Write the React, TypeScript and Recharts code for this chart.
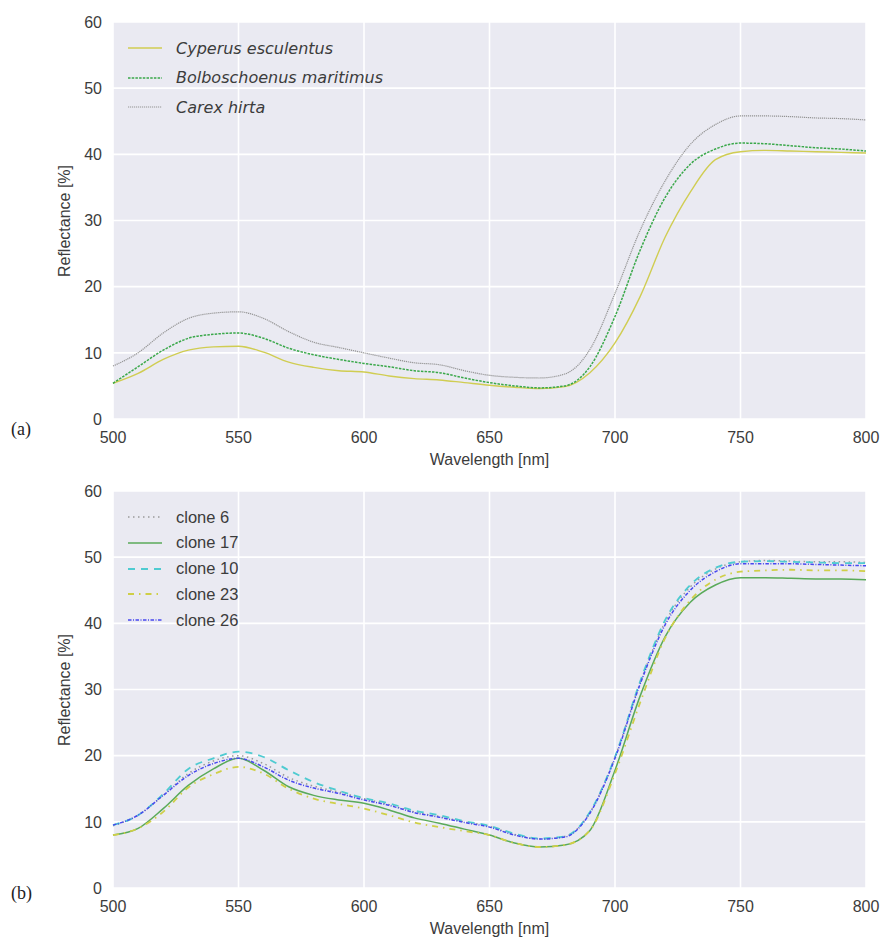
import { LineChart, Line, XAxis, YAxis, CartesianGrid } from 'recharts';

// wavelength grid, nm
const wavelengths = [
  500, 510, 520, 530, 540, 550, 560, 570, 580, 590, 600,
  610, 620, 630, 640, 650, 660, 670, 680, 690, 700,
  710, 720, 730, 740, 750, 760, 770, 780, 790, 800,
];
const xTicks = [500, 550, 600, 650, 700, 750, 800];
const yTicks = [0, 10, 20, 30, 40, 50, 60];

// (a) species
const cyperus = [
  5.4, 6.9, 9.0, 10.4, 10.9, 11.0, 10.1, 8.6, 7.8, 7.3, 7.1,
  6.5, 6.1, 5.9, 5.5, 5.1, 4.8, 4.6, 4.9, 7.0, 11.5,
  18.5, 27.5, 34.3, 39.2, 40.4, 40.6, 40.5, 40.4, 40.3, 40.2,
];
const bolboschoenus = [
  5.4, 7.9, 10.4, 12.2, 12.8, 13.0, 12.2, 10.7, 9.7, 9.0, 8.4,
  7.9, 7.3, 7.0, 6.2, 5.5, 5.0, 4.7, 5.0, 7.9, 15.5,
  25.5, 33.5, 38.5, 40.8, 41.7, 41.6, 41.3, 41.0, 40.8, 40.5,
];
const carex = [
  8.0, 10.0, 13.0, 15.2, 16.0, 16.2, 15.2, 13.2, 11.6, 10.8, 10.0,
  9.2, 8.5, 8.2, 7.3, 6.6, 6.3, 6.2, 6.8, 10.5, 19.0,
  28.5, 36.0, 41.5, 44.5, 45.8, 45.8, 45.7, 45.5, 45.4, 45.2,
];

// (b) clones
const clone6 = [
  9.4, 11.0, 14.0, 17.3, 19.2, 20.0, 18.8, 16.7, 15.4, 14.5, 13.5,
  12.6, 11.5, 10.8, 10.0, 9.3, 8.1, 7.4, 7.8, 11.4, 19.8,
  31.0, 40.2, 45.5, 48.2, 49.3, 49.5, 49.4, 49.3, 49.3, 49.2,
];
const clone17 = [
  8.0, 9.0, 12.0, 15.5, 18.0, 19.6, 17.8, 15.3, 14.0, 13.3, 12.8,
  11.8, 10.6, 9.8, 8.9, 8.0, 6.8, 6.2, 6.5, 8.7, 17.8,
  29.0, 38.0, 43.2, 45.8, 46.9, 46.9, 46.8, 46.7, 46.7, 46.6,
];
const clone10 = [
  9.5, 11.0, 14.2, 18.0, 19.6, 20.6, 19.8, 17.8, 16.0, 14.7, 13.6,
  12.8, 11.7, 11.0, 10.1, 9.4, 8.2, 7.5, 7.8, 11.5, 19.8,
  31.2, 40.5, 45.8, 48.4, 49.3, 49.4, 49.3, 49.2, 49.1, 49.1,
];
const clone23 = [
  8.0, 9.0, 11.5, 15.2, 17.2, 18.3, 17.3, 15.0, 13.5, 12.7, 12.0,
  11.0, 9.9, 9.2, 8.6, 8.0, 6.8, 6.2, 6.5, 8.7, 17.3,
  28.0, 37.8, 43.5, 46.6, 47.8, 48.0, 48.1, 48.0, 48.0, 47.9,
];
const clone26 = [
  9.5, 11.0, 14.0, 17.0, 18.8, 19.6, 18.3, 16.3, 15.1, 14.3, 13.3,
  12.5, 11.4, 10.7, 9.9, 9.2, 8.0, 7.4, 7.7, 11.3, 19.6,
  30.8, 39.8, 45.0, 47.8, 49.0, 49.0, 49.0, 48.9, 48.8, 48.7,
];

type Series = {
  key: string;
  name: string;
  values: number[];
  color: string;
  dash?: string;
  width: number;
};

const speciesSeries: Series[] = [
  { key: 'cyperus', name: 'Cyperus esculentus', values: cyperus, color: '#d0cd52', width: 1.4 },
  { key: 'bolboschoenus', name: 'Bolboschoenus maritimus', values: bolboschoenus, color: '#3aa84a', dash: '2.5 1.2', width: 1.5 },
  { key: 'carex', name: 'Carex hirta', values: carex, color: '#949494', dash: '1.2 0.8', width: 1.2 },
];

const cloneSeries: Series[] = [
  { key: 'c6', name: 'clone 6', values: clone6, color: '#9a9a9a', dash: '1.5 3.5', width: 1.5 },
  { key: 'c17', name: 'clone 17', values: clone17, color: '#5aaa5a', width: 1.5 },
  { key: 'c10', name: 'clone 10', values: clone10, color: '#4fcbd1', dash: '7 6', width: 1.8 },
  { key: 'c23', name: 'clone 23', values: clone23, color: '#cfcf47', dash: '6 5 1.5 5', width: 1.8 },
  { key: 'c26', name: 'clone 26', values: clone26, color: '#4848f0', dash: '3.5 1.5 1 1.5', width: 1.5 },
];

const buildRows = (series: Series[]) =>
  wavelengths.map((wl, i) => {
    const row: Record<string, number> = { wl };
    series.forEach((s) => {
      row[s.key] = s.values[i];
    });
    return row;
  });

const FONT = '"Liberation Sans", Arial, Helvetica, sans-serif';
const TEXT = '#3c3c3c';

function SwatchLegend({ series, top, rowGap, italic }: { series: Series[]; top: number; rowGap: number; italic?: boolean }) {
  return (
    <div style={{ position: 'absolute', left: 128, top, pointerEvents: 'none' }}>
      {series.map((s, i) => (
        <div
          key={s.key}
          style={{ position: 'absolute', top: i * rowGap, left: 0, height: 20, display: 'flex', alignItems: 'center', whiteSpace: 'nowrap' }}
        >
          <svg width={34} height={10} style={{ display: 'block' }}>
            <line x1={0} x2={34} y1={5} y2={5} stroke={s.color} strokeWidth={s.width} strokeDasharray={s.dash} />
          </svg>
          <span
            style={{
              marginLeft: 14,
              fontSize: italic ? 16 : 16.5,
              fontStyle: italic ? 'italic' : 'normal',
              fontFamily: italic ? '"DejaVu Sans", sans-serif' : FONT,
              color: TEXT,
            }}
          >
            {s.name}
          </span>
        </div>
      ))}
    </div>
  );
}

function Panel({ series, top, margin, tag, tagTop, legendTop, legendGap, italic }: {
  series: Series[];
  top: number;
  margin: { top: number; right: number; bottom: number; left: number };
  tag: string;
  tagTop: number;
  legendTop: number;
  legendGap: number;
  italic?: boolean;
}) {
  const rows = buildRows(series);
  const plotTop = top + margin.top;
  const plotBottom = top + 470 - margin.bottom - 30;
  return (
    <>
      <div style={{ position: 'absolute', left: 0, top }}>
        <LineChart width={880} height={470} data={rows} margin={margin}>
          <CartesianGrid fill="#eaeaf2" stroke="#ffffff" strokeWidth={1.6} />
          <XAxis
            dataKey="wl"
            type="number"
            domain={[500, 800]}
            ticks={xTicks}
            axisLine={false}
            tickLine={false}
            tickMargin={7}
            height={30}
            tick={{ fill: TEXT, fontSize: 16, fontFamily: FONT }}
          />
          <YAxis
            domain={[0, 60]}
            ticks={yTicks}
            axisLine={false}
            tickLine={false}
            tickMargin={5}
            width={113}
            tick={{ fill: TEXT, fontSize: 16, fontFamily: FONT }}
          />
          {series.map((s) => (
            <Line
              key={s.key}
              type="monotone"
              dataKey={s.key}
              stroke={s.color}
              strokeWidth={s.width}
              strokeDasharray={s.dash}
              dot={false}
              activeDot={false}
              isAnimationActive={false}
            />
          ))}
        </LineChart>
      </div>
      <SwatchLegend series={series} top={legendTop} rowGap={legendGap} italic={italic} />
      <div
        style={{
          position: 'absolute',
          left: 113,
          width: 753,
          top: plotBottom + 32,
          textAlign: 'center',
          fontSize: 16,
          color: TEXT,
          fontFamily: FONT,
        }}
      >
        Wavelength [nm]
      </div>
      <div
        style={{
          position: 'absolute',
          left: 65,
          top: (plotTop + plotBottom) / 2,
          transform: 'translate(-50%, -50%) rotate(-90deg)',
          whiteSpace: 'nowrap',
          fontSize: 16,
          color: TEXT,
          fontFamily: FONT,
        }}
      >
        Reflectance [%]
      </div>
      <div
        style={{
          position: 'absolute',
          left: 11,
          top: tagTop,
          fontSize: 18,
          fontFamily: '"Liberation Serif", "Times New Roman", serif',
          color: '#222',
        }}
      >
        {tag}
      </div>
    </>
  );
}

export default function App() {
  return (
    <div style={{ position: 'absolute', left: 0, top: 0, width: 880, height: 940, background: '#fff', overflow: 'hidden', fontFamily: FONT }}>
      <Panel
        series={speciesSeries}
        top={0}
        margin={{ top: 22, right: 14, bottom: 21, left: 0 }}
        tag="(a)"
        tagTop={419}
        legendTop={38}
        legendGap={29.5}
        italic
      />
      <Panel
        series={cloneSeries}
        top={470}
        margin={{ top: 21, right: 14, bottom: 22, left: 0 }}
        tag="(b)"
        tagTop={883}
        legendTop={507}
        legendGap={25.8}
      />
    </div>
  );
}
